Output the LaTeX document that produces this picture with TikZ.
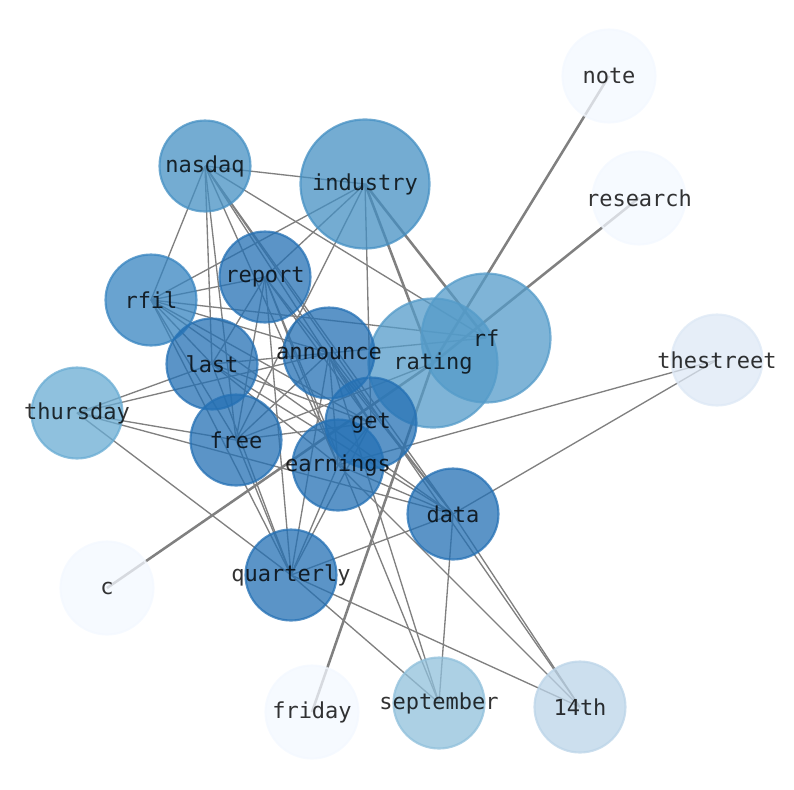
\documentclass[tikz,border=0pt]{standalone}
\usepackage{fontspec}
\setmonofont{DejaVu Sans Mono}
\begin{document}
\begin{tikzpicture}[x=0.75pt,y=-0.75pt,
  e/.style={draw=gray,line width=1pt},
  te/.style={draw=gray,line width=1.9pt},
  nd/.style={circle,minimum size=#1*0.75pt,inner sep=0pt,fill opacity=0.75,draw opacity=0.75,line width=1.6pt},
  nd/.default=91,
  tx/.style={inner sep=0pt,font=\ttfamily\fontsize{16.5}{18}\selectfont,text=black,text opacity=0.8}]
\useasboundingbox (0,0) rectangle (794,790);
\definecolor{c0}{RGB}{243,248,255}
\definecolor{cT}{RGB}{221,232,245}
\definecolor{cF}{RGB}{187,212,232}
\definecolor{cS}{RGB}{144,192,219}
\definecolor{cH}{RGB}{105,172,211}
\definecolor{cR}{RGB}{84,155,201}
\definecolor{cA}{RGB}{69,144,195}
\definecolor{cB}{RGB}{55,132,192}
\definecolor{cD}{RGB}{36,112,180}
% centres
\coordinate (note) at (609,76);
\coordinate (research) at (639,198);
\coordinate (industry) at (365,184);
\coordinate (nasdaq) at (205,166);
\coordinate (report) at (265,277);
\coordinate (rfil) at (151,300);
\coordinate (rf) at (486,338);
\coordinate (rating) at (433,363);
\coordinate (announce) at (329,353);
\coordinate (last) at (212,364);
\coordinate (thestreet) at (717,360);
\coordinate (thursday) at (77,413);
\coordinate (free) at (236,440);
\coordinate (get) at (371,423);
\coordinate (earnings) at (338,465);
\coordinate (data) at (453,514);
\coordinate (quarterly) at (291,575);
\coordinate (c) at (107,588);
\coordinate (friday) at (312,712);
\coordinate (september) at (439,703);
\coordinate (14th) at (580,707);
% thick edges
\draw[te] (note) -- (rating);
\draw[te] (research) -- (rating);
\draw[te] (industry) -- (rating);
\draw[te] (c) -- (rating);
\draw[te] (friday) -- (rating);
\draw[te] (industry) -- (rf);
% thin edges
\foreach \a/\b in {nasdaq/industry,nasdaq/rfil,nasdaq/last,nasdaq/free,nasdaq/rf,nasdaq/get,nasdaq/data,nasdaq/14th,nasdaq/earnings,
  industry/rfil,industry/report,industry/free,industry/get,
  report/rfil,report/last,report/free,report/quarterly,report/earnings,report/get,report/data,report/september,
  rfil/rf,rfil/announce,rfil/last,rfil/free,rfil/get,rfil/data,rfil/quarterly,
  last/announce,last/get,last/quarterly,last/earnings,last/thursday,last/data,
  thursday/announce,thursday/free,thursday/data,thursday/quarterly,
  free/announce,free/get,free/quarterly,free/rating,
  announce/earnings,announce/quarterly,announce/get,announce/data,announce/rf,announce/september,
  get/earnings,get/quarterly,
  earnings/quarterly,earnings/data,earnings/14th,earnings/thestreet,
  data/quarterly,data/september,data/thestreet,data/14th,
  quarterly/14th,quarterly/september}
  {\draw[e] (\a) -- (\b);}
% nodes (circles)
\node[nd=93,fill=c0,draw=c0] (n-note) at (note) {};
\node[nd=93,fill=c0,draw=c0] (n-research) at (research) {};
\node[nd=93,fill=c0,draw=c0] (n-c) at (c) {};
\node[nd=93,fill=c0,draw=c0] (n-friday) at (friday) {};
\node[nd,fill=cT,draw=cT] (n-thestreet) at (thestreet) {};
\node[nd,fill=cF,draw=cF] (n-14th) at (14th) {};
\node[nd,fill=cS,draw=cS] (n-september) at (september) {};
\node[nd,fill=cH,draw=cH] (n-thursday) at (thursday) {};
\node[nd=129,fill=cA,draw=cA] (n-industry) at (industry) {};
\node[nd,fill=cA,draw=cA] (n-nasdaq) at (nasdaq) {};
\node[nd,fill=cB,draw=cB] (n-rfil) at (rfil) {};
\node[nd=129,fill=cR,draw=cR] (n-rating) at (rating) {};
\node[nd=129,fill=cR,draw=cR] (n-rf) at (rf) {};
\node[nd,fill=cD,draw=cD] (n-report) at (report) {};
\node[nd,fill=cD,draw=cD] (n-last) at (last) {};
\node[nd,fill=cD,draw=cD] (n-announce) at (announce) {};
\node[nd,fill=cD,draw=cD] (n-free) at (free) {};
\node[nd,fill=cD,draw=cD] (n-get) at (get) {};
\node[nd,fill=cD,draw=cD] (n-earnings) at (earnings) {};
\node[nd,fill=cD,draw=cD] (n-data) at (data) {};
\node[nd,fill=cD,draw=cD] (n-quarterly) at (quarterly) {};
% labels
\foreach \n in {note,research,c,friday,thestreet,14th,september,thursday,industry,nasdaq,rfil,rating,rf,report,last,announce,free,get,earnings,data,quarterly}
  {\node[tx] (t-\n) at (\n) {\n};}
\end{tikzpicture}
\end{document}
